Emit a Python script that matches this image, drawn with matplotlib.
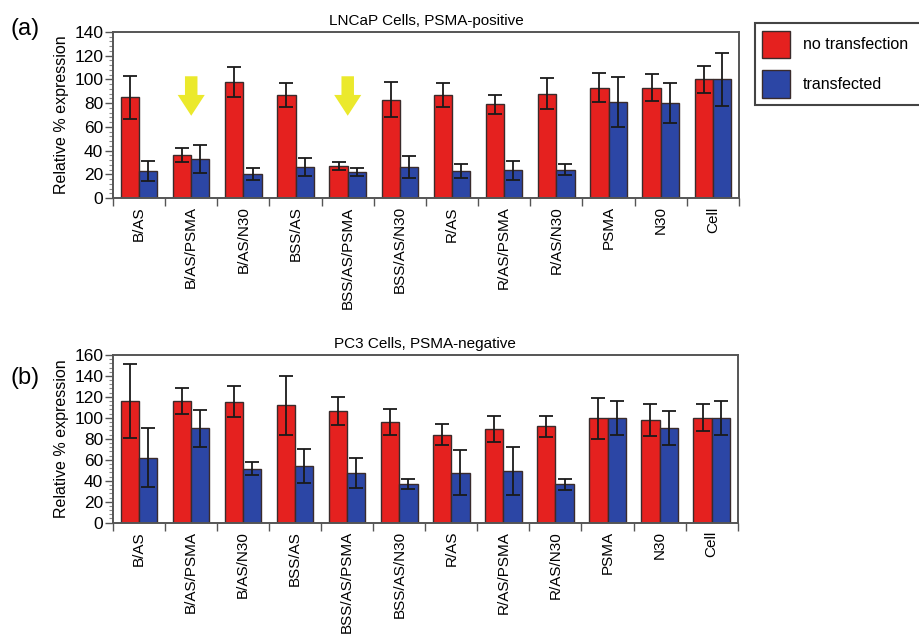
import matplotlib
matplotlib.use("Agg")
import matplotlib.pyplot as plt
import numpy as np
from matplotlib.patches import Patch
from matplotlib.ticker import MultipleLocator

plt.rcParams['font.family'] = ['Liberation Sans', 'DejaVu Sans']

categories = ['B/AS', 'B/AS/PSMA', 'B/AS/N30', 'BSS/AS', 'BSS/AS/PSMA', 'BSS/AS/N30',
              'R/AS', 'R/AS/PSMA', 'R/AS/N30', 'PSMA', 'N30', 'Cell']

# (a) LNCaP, PSMA-positive
lncap_none = [85, 36, 98, 87, 27, 83, 87, 79, 88, 93, 93, 100]
lncap_none_err = [18, 6, 12.5, 10, 3, 15, 10, 8, 13, 12, 11.5, 11.5]
lncap_trans = [23, 33, 20, 26, 22, 26, 23, 23.5, 24, 81, 80, 100]
lncap_trans_err = [8.5, 12, 5, 7.5, 3.5, 9, 6, 8, 5, 21, 17, 22]

# (b) PC3, PSMA-negative
pc3_none = [116, 116, 115.5, 112, 106.5, 96, 84, 89, 92, 99.5, 98, 100]
pc3_none_err = [35, 12, 15, 28, 13.5, 12, 10, 12.5, 10, 19.5, 15, 13]
pc3_trans = [62, 90, 51.5, 54, 47.5, 37, 47.5, 49, 36.5, 100, 90.5, 100]
pc3_trans_err = [28, 17.5, 6.5, 16.5, 14.5, 5, 21.5, 23, 5.5, 16, 16, 16]

arrow_groups = ['B/AS/PSMA', 'BSS/AS/PSMA']

RED = '#e5211f'
BLUE = '#2c46a5'
EDGE = '#3a2b2b'
SPINE = '#555555'

fig = plt.figure(figsize=(9.2, 6.36), dpi=100)
ax_a = fig.add_axes([0.1228, 0.6887, 0.6804, 0.2610])
ax_b = fig.add_axes([0.1228, 0.1782, 0.6790, 0.2637])

x = np.arange(len(categories)) + 0.5
w = 0.35


def draw_panel(ax, none, none_err, trans, trans_err, ymax, title):
    ekw = dict(ecolor='#1a1a1a', elinewidth=1.3, capsize=5.2, capthick=1.3)
    ax.bar(x - w / 2, none, w, color=RED, edgecolor=EDGE, linewidth=1.0,
           yerr=none_err, error_kw=ekw, zorder=2)
    ax.bar(x + w / 2, trans, w, color=BLUE, edgecolor=EDGE, linewidth=1.0,
           yerr=trans_err, error_kw=ekw, zorder=2)
    ax.set_xlim(0, len(categories))
    ax.set_ylim(0, ymax)
    ax.yaxis.set_major_locator(MultipleLocator(20))
    ax.yaxis.set_minor_locator(MultipleLocator(4))
    ax.set_xticks(np.arange(len(categories) + 1))
    ax.set_xticklabels([])
    ax.set_xticks(x, minor=True)
    ax.set_xticklabels(categories, minor=True, rotation=90, fontsize=11)
    ax.tick_params(axis='x', which='major', length=6, width=1, color=SPINE, direction='out')
    ax.tick_params(axis='x', which='minor', length=0, pad=6)
    ax.tick_params(axis='y', which='major', length=6, width=1, color=SPINE,
                   labelsize=12.5, pad=1)
    ax.tick_params(axis='y', which='minor', length=3, width=0.8, color='#888888')
    for sp in ax.spines.values():
        sp.set_color(SPINE)
        sp.set_linewidth(1.4)
    ax.set_ylabel('Relative % expression', fontsize=11.5, labelpad=4)
    ax.set_title(title, fontsize=11, pad=5)


draw_panel(ax_a, lncap_none, lncap_none_err, lncap_trans, lncap_trans_err, 140,
           'LNCaP Cells, PSMA-positive')
draw_panel(ax_b, pc3_none, pc3_none_err, pc3_trans, pc3_trans_err, 160,
           'PC3 Cells, PSMA-negative')

# yellow arrows over the PSMA-targeted constructs
for name in arrow_groups:
    xi = x[categories.index(name)]
    ax_a.annotate('', xy=(xi, 67), xytext=(xi, 105),
                  arrowprops=dict(arrowstyle='simple,head_length=1.5,head_width=1.95,tail_width=0.9',
                                  color='#ebe92c', lw=0), zorder=3)

fig.text(0.027, 0.955, '(a)', fontsize=17, ha='center', va='center')
fig.text(0.027, 0.405, '(b)', fontsize=17, ha='center', va='center')

handles = [Patch(facecolor=RED, edgecolor=EDGE, linewidth=1.0),
           Patch(facecolor=BLUE, edgecolor=EDGE, linewidth=1.0)]
leg = fig.legend(handles, ['no transfection', 'transfected'],
                 loc='upper left', bbox_to_anchor=(755 / 920, 1 - 24 / 636, 180 / 920, 0.001),
                 mode='expand', borderaxespad=0, fontsize=11.5,
                 handlelength=1.75, handleheight=2.3,
                 labelspacing=0.75, handletextpad=0.8, borderpad=0.45,
                 fancybox=False, framealpha=1)
leg.get_frame().set_edgecolor('#444444')
leg.get_frame().set_linewidth(1.5)

fig.savefig('out.png', dpi=100)
